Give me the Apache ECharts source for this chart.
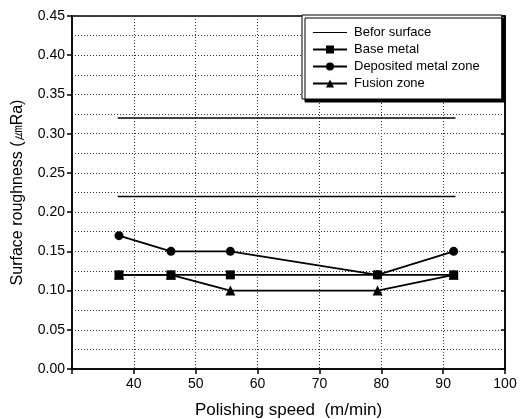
<!DOCTYPE html>
<html><head><meta charset="utf-8">
<script src="https://cdn.jsdelivr.net/npm/echarts@6/dist/echarts.min.js"></script>
<style>html,body{margin:0;padding:0;background:#fff}#c{width:524px;height:419px}</style>
</head><body><div id="c"></div>
<script>
// Data
const speeds = [37.6, 46.0, 55.6, 79.4, 91.7];
const baseMetal = [0.12, 0.12, 0.12, 0.12, 0.12];
const depositedZone = [0.17, 0.15, 0.15, 0.12, 0.15];
const fusionZone = [0.12, 0.12, 0.10, 0.10, 0.12];
const beforeX = [37.4, 92.0];
const beforeUpper = [0.32, 0.32];
const beforeLower = [0.22, 0.22];
const xTicks = [40, 50, 60, 70, 80, 90, 100];
const yTicks = [0, 0.05, 0.1, 0.15, 0.2, 0.25, 0.3, 0.35, 0.4, 0.45];

const zip = (xs, ys) => xs.map((x, i) => [x, ys[i]]);
const font = 'Liberation Sans, Arial, sans-serif';
const lineStyle = {color: '#000', width: 1.8};
const chart = echarts.init(document.getElementById('c'));
chart.setOption({
  animation: false,
  backgroundColor: '#fff',
  grid: {left: 72, right: 19, top: 16, bottom: 50, show: true, borderColor: '#000', borderWidth: 1.5,
         containLabel: false, outerBoundsMode: 'none'},
  legend: {
    left: 302, top: 15, orient: 'vertical',
    padding: [11, 22, 9, 10], itemGap: 4, itemWidth: 34, itemHeight: 10,
    backgroundColor: '#fff', borderColor: '#000', borderWidth: 1,
    shadowColor: '#000', shadowOffsetX: 3, shadowOffsetY: 3, shadowBlur: 0,
    textStyle: {fontFamily: font, fontSize: 13, color: '#000', padding: [0, 0, 0, 2]},
    data: [
      {name: 'Befor surface', icon: 'path://M0,4.4 L34,4.4 L34,5.6 L0,5.6 Z'},
      'Base metal', 'Deposited metal zone', 'Fusion zone'
    ]
  },
  xAxis: {
    type: 'value', min: 30, max: 100, interval: 10,
    name: 'Polishing speed  (m/min)', nameLocation: 'middle', nameGap: 33,
    nameTextStyle: {fontFamily: font, fontSize: 17, color: '#000'},
    axisLine: {lineStyle: {color: '#000', width: 1.5}},
    axisTick: {show: true, inside: false, length: 5, lineStyle: {color: '#000', width: 1.5}},
    axisLabel: {fontFamily: font, fontSize: 14, color: '#000', margin: 8,
      formatter: v => xTicks.indexOf(v) >= 0 ? String(v) : ''},
    splitLine: {show: true, lineStyle: {color: '#333', type: [1, 2], width: 1}}
  },
  yAxis: [{
    type: 'value', min: 0, max: 0.45, interval: 0.05,
    name: 'Surface roughness (㎛Ra)', nameLocation: 'middle', nameGap: 46,
    nameTextStyle: {fontFamily: font, fontSize: 16, color: '#000'},
    axisLine: {show: true, lineStyle: {color: '#000', width: 1.5}},
    axisTick: {show: true, length: 5, lineStyle: {color: '#000', width: 1.5}},
    axisLabel: {fontFamily: font, fontSize: 14, color: '#000', margin: 7,
      formatter: v => yTicks.some(t => Math.abs(t - v) < 1e-9) ? v.toFixed(2) : ''},
    splitLine: {show: true, lineStyle: {color: '#333', type: [1, 2], width: 1}},
    minorTick: {show: false, splitNumber: 2},
    minorSplitLine: {show: true, lineStyle: {color: '#333', type: [1, 2], width: 1}}
  }, {
    type: 'value', min: 0, max: 0.45, interval: 0.05, position: 'right',
    axisLine: {show: true, lineStyle: {color: '#000', width: 1.5}},
    axisTick: {show: true, inside: true, length: 4, lineStyle: {color: '#000', width: 1.5}},
    axisLabel: {show: false}, splitLine: {show: false}
  }],
  series: [
    {name: 'Befor surface', type: 'line', data: zip(beforeX, beforeUpper), symbol: 'none',
     lineStyle: {color: '#000', width: 1.5}, itemStyle: {color: '#000'}},
    {name: 'Befor surface', type: 'line', data: zip(beforeX, beforeLower), symbol: 'none',
     lineStyle: {color: '#000', width: 1.5}, itemStyle: {color: '#000'}},
    {name: 'Base metal', type: 'line', data: zip(speeds, baseMetal), symbol: 'rect', symbolSize: 9,
     lineStyle: lineStyle, itemStyle: {color: '#000'}},
    {name: 'Deposited metal zone', type: 'line', data: zip(speeds, depositedZone), symbol: 'circle', symbolSize: 9,
     lineStyle: lineStyle, itemStyle: {color: '#000'}},
    {name: 'Fusion zone', type: 'line', data: zip(speeds, fusionZone), symbol: 'triangle', symbolSize: 10,
     lineStyle: lineStyle, itemStyle: {color: '#000'}}
  ]
});
</script></body></html>
